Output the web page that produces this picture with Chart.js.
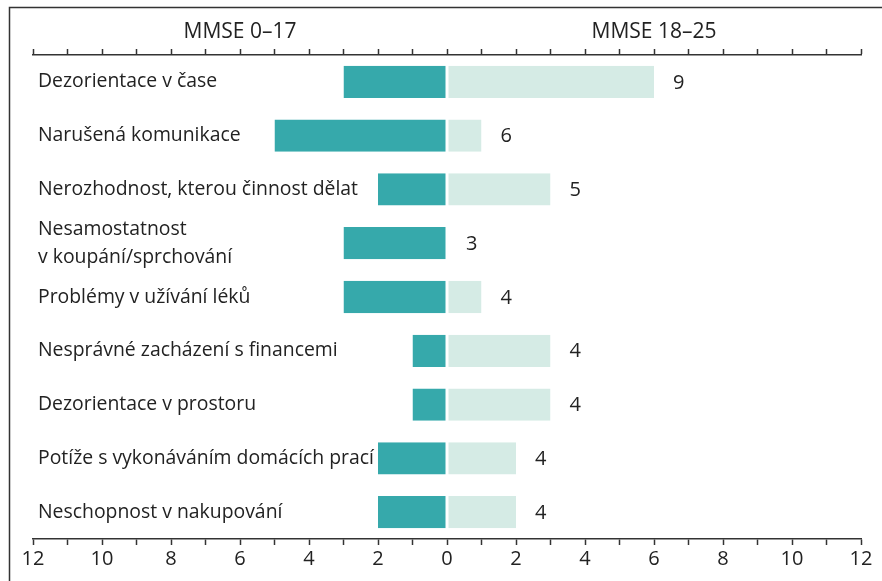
<!DOCTYPE html>
<html>
<head>
<meta charset="utf-8">
<script src="https://cdn.jsdelivr.net/npm/chart.js@4"></script>
<style>
  body { margin: 0; background: #fff; }
  canvas { display: block; }
</style>
</head>
<body>
<canvas id="chart" width="882" height="581"></canvas>
<script>
var categories = [
    "Dezorientace v čase",
    "Narušená komunikace",
    "Nerozhodnost, kterou činnost dělat",
    ["Nesamostatnost", "v koupání/sprchování"],
    "Problémy v užívání léků",
    "Nesprávné zacházení s financemi",
    "Dezorientace v prostoru",
    "Potíže s vykonáváním domácích prací",
    "Neschopnost v nakupování"
];
var mmseLow = [3, 5, 2, 3, 3, 1, 1, 2, 2];    // MMSE 0–17
var mmseHigh = [6, 1, 3, 0, 1, 3, 3, 2, 2];   // MMSE 18–25
var totals = [9, 6, 5, 3, 4, 4, 4, 4, 4];
var groupLabels = ["MMSE 0–17", "MMSE 18–25"];

var FONT = "'Open Sans', sans-serif";
var TEXT = "#222";

var overlay = {
    id: "overlay",
    afterDatasetsDraw: function(chart) {
        var ctx = chart.ctx;
        var x = chart.scales.x;
        var y = chart.scales.y;
        ctx.save();
        ctx.fillStyle = TEXT;
        ctx.font = "19.4px " + FONT;
        ctx.textBaseline = "middle";
        ctx.textAlign = "left";
        categories.forEach(function(c, i) {
            var yc = y.getPixelForValue(i);
            var lines = Array.isArray(c) ? c : [c];
            var lh = 28;
            lines.forEach(function(l, j) {
                ctx.fillText(l, chart.chartArea.left + 5, yc + (j - (lines.length - 1) / 2) * lh);
            });
            var end = x.getPixelForValue(Math.max(mmseHigh[i], 0));
            ctx.font = "20px " + FONT;
            ctx.fillText(String(totals[i]), end + 19, yc + 1);
            ctx.font = "19.4px " + FONT;
        });
        // group titles
        ctx.font = "21px " + FONT;
        ctx.textAlign = "center";
        ctx.textBaseline = "alphabetic";
        ctx.fillText(groupLabels[0], x.getPixelForValue(-6), 38);
        ctx.fillText(groupLabels[1], x.getPixelForValue(6), 38);
        // frame
        ctx.strokeStyle = "#333";
        ctx.lineWidth = 1.5;
        ctx.beginPath();
        ctx.moveTo(9.5, chart.height);
        ctx.lineTo(9.5, 7.5);
        ctx.lineTo(chart.width, 7.5);
        ctx.stroke();
        ctx.restore();
    }
};

var axisBase = {
    min: -12,
    max: 12,
    stacked: true,
    grid: { drawOnChartArea: false, tickLength: 6, tickColor: "#333", tickWidth: 1.5 },
    border: { display: true, color: "#333", width: 1.5 }
};

new Chart(document.getElementById("chart"), {
    type: "bar",
    data: {
        labels: categories,
        datasets: [
            {
                label: groupLabels[0],
                data: mmseLow.map(function(v) { return -v; }),
                backgroundColor: "#36a9ab",
                borderColor: "#fff",
                borderWidth: { top: 0, bottom: 0, left: 0, right: 1 },
                borderSkipped: false,
                barPercentage: 0.6,
                categoryPercentage: 1
            },
            {
                label: groupLabels[1],
                data: mmseHigh,
                backgroundColor: "#d5ebe5",
                borderColor: "#fff",
                borderWidth: { top: 0, bottom: 0, left: 1, right: 0 },
                borderSkipped: false,
                barPercentage: 0.6,
                categoryPercentage: 1
            }
        ]
    },
    options: {
        responsive: false,
        animation: false,
        indexAxis: "y",
        layout: { padding: { top: 49, left: 33, right: 21, bottom: 8 } },
        plugins: { legend: { display: false }, tooltip: { enabled: false } },
        scales: {
            x: Object.assign({}, axisBase, {
                position: "bottom",
                ticks: {
                    stepSize: 1,
                    autoSkip: false,
                    maxRotation: 0,
                    color: TEXT,
                    font: { family: FONT, size: 20 },
                    padding: 2,
                    callback: function(v) { return v % 2 === 0 ? String(Math.abs(v)) : ""; }
                }
            }),
            x2: Object.assign({}, axisBase, {
                position: "top",
                ticks: { stepSize: 1, display: false }
            }),
            y: { display: false, stacked: true }
        }
    },
    plugins: [overlay]
});
</script>
</body>
</html>
